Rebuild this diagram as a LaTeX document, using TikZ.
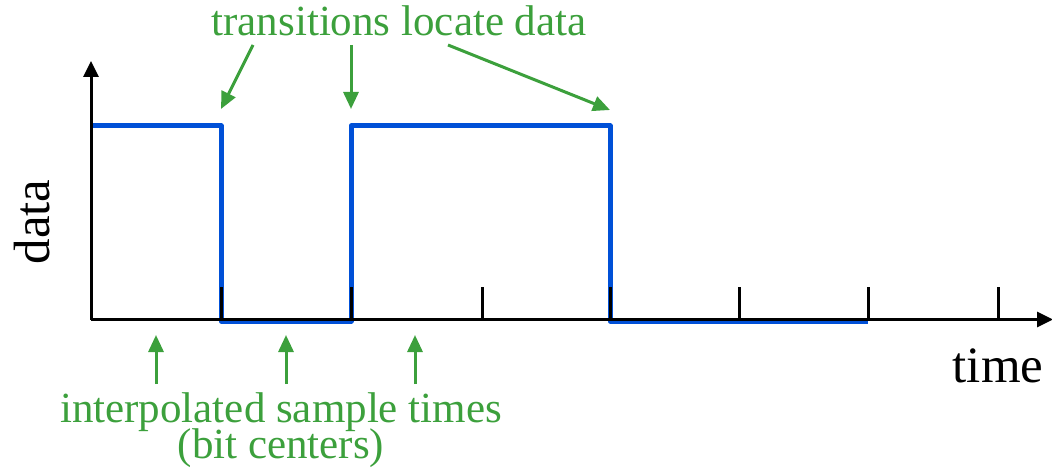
\documentclass[tikz,border=0pt]{standalone}
\usepackage{fontspec}
\setmainfont{Liberation Serif}
\usetikzlibrary{arrows.meta}
\definecolor{sigblue}{RGB}{0,80,215}
\definecolor{annogreen}{RGB}{60,160,60}
\begin{document}
\begin{tikzpicture}[x=1pt,y=-1pt,
  axis/.style={line width=3pt,black},
  tick/.style={line width=3pt,black},
  signal/.style={line width=5pt,sigblue,line join=round},
  garrow/.style={line width=3pt,annogreen,-{Triangle[length=17pt,width=15pt]}},
  glabel/.style={text=annogreen,font=\fontsize{43}{36}\selectfont,inner sep=0pt},
  blabel/.style={text=black,font=\fontsize{51}{56}\selectfont,inner sep=0pt}]
\useasboundingbox (0,0) rectangle (1052,473);
% signal
\draw[signal] (91,126) -- (221,126) -- (221,321) -- (351,321) -- (351,126) -- (610,126) -- (610,321) -- (868,321);
% axes
\coordinate (O) at (91,319.5);
\coordinate (ytip) at (91,61);
\coordinate (xtip) at (1053,319.5);
\draw[axis,-{Triangle[length=16pt,width=15pt]}] (O) -- (ytip);
\draw[axis,-{Triangle[length=16pt,width=15pt]}] (O) -- (xtip);
\foreach \x in {221,351,482,610,739,868,998}
  \draw[tick] (\x,287) -- (\x,320.5);
% labels
\node[blabel,anchor=base] (time) at (998,382) {time};
\node[blabel,rotate=90,anchor=base] (data) at (49,222) {data};
\node[glabel,anchor=base] (top) at (399,36) {transitions locate data};
\node[glabel,anchor=base,align=center] (bot) at (281,458) {interpolated sample times\\[-4pt](bit centers)};
% top arrows
\coordinate (t1s) at (253,45);
\coordinate (t1e) at (221,109);
\coordinate (t2s) at (351,45);
\coordinate (t2e) at (351,109);
\coordinate (t3s) at (448,45);
\coordinate (t3e) at (610,110);
\draw[garrow] (t1s) -- (t1e);
\draw[garrow] (t2s) -- (t2e);
\draw[garrow] (t3s) -- (t3e);
% bottom arrows
\foreach \x/\n in {156/a,286/b,415/c}{
  \coordinate (b\n s) at (\x,384);
  \coordinate (b\n e) at (\x,335);
  \draw[garrow] (b\n s) -- (b\n e);
}
\end{tikzpicture}
\end{document}
